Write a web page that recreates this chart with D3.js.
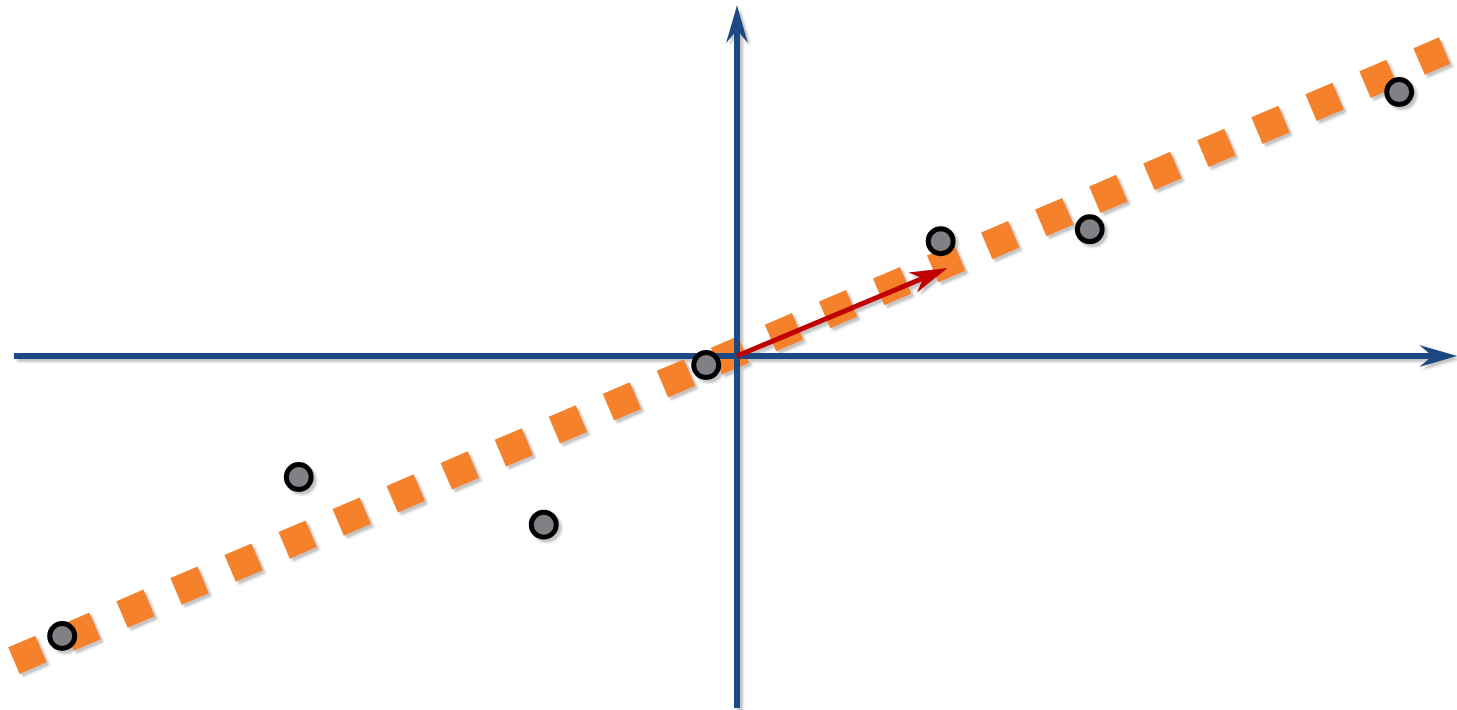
<!DOCTYPE html>
<html>
<head>
<meta charset="utf-8">
<script src="https://cdn.jsdelivr.net/npm/d3@7"></script>
<style>
  html, body { margin: 0; padding: 0; background: #fff; overflow: hidden; }
</style>
</head>
<body>
<div id="chart"></div>
<script>
// data points (x, y) in chart units
var pointsX = [-9.64, -6.26, -2.76, -0.44, 2.91, 5.04, 9.46];
var pointsY = [-4.0, -1.73, -2.41, -0.13, 1.64, 1.81, 3.77];

// fitted line through the cloud
var fitX = [-10.33, 10.11];
var fitSlope = 0.4263, fitIntercept = 0.053;

// red direction vector from origin
var vecX = [0, 3.01], vecY = [0, 1.257];

// axis extents
var axisXRange = [-10.33, 10.29];
var axisYRange = [-5.03, 5.01];

var width = 1457, height = 710;

var x = d3.scaleLinear().domain([-10, 10]).range([37, 1437]);
var y = d3.scaleLinear().domain([-5, 5]).range([706, 6]);

var svg = d3.select('#chart').append('svg')
  .attr('width', width).attr('height', height);

var defs = svg.append('defs');

var shadow = defs.append('filter').attr('id', 'shadow')
  .attr('x', '-20%').attr('y', '-20%').attr('width', '140%').attr('height', '140%');
shadow.append('feDropShadow')
  .attr('dx', 3).attr('dy', 3).attr('stdDeviation', 0.8)
  .attr('flood-color', '#888').attr('flood-opacity', 0.5);

// arrowhead: tip at +notch, back corners behind
function marker(id, color, len, half, notch) {
  defs.append('marker')
    .attr('id', id)
    .attr('markerUnits', 'userSpaceOnUse')
    .attr('viewBox', `${-(len - notch) - 1} ${-half - 1} ${len + 2} ${half * 2 + 2}`)
    .attr('markerWidth', len + 2).attr('markerHeight', half * 2 + 2)
    .attr('refX', 0).attr('refY', 0)
    .attr('orient', 'auto')
    .append('path')
    .attr('d', `M${notch},0 L${-(len - notch)},${-half} L0,0 L${-(len - notch)},${half} Z`)
    .attr('fill', color);
}
marker('arrowBlue', '#1f4a84', 38, 11, 25);
marker('arrowRed', '#c00000', 38, 11, 27);

// shorten a segment end by d pixels
function shorten(x1, y1, x2, y2, d) {
  var len = Math.hypot(x2 - x1, y2 - y1);
  return [x2 - (x2 - x1) / len * d, y2 - (y2 - y1) / len * d];
}

var g = svg.append('g').attr('filter', 'url(#shadow)');

// dashed fit line
g.append('line')
  .attr('x1', x(fitX[0])).attr('y1', y(fitSlope * fitX[0] + fitIntercept))
  .attr('x2', x(fitX[1])).attr('y2', y(fitSlope * fitX[1] + fitIntercept))
  .attr('stroke', '#f5822a')
  .attr('stroke-width', 29)
  .attr('stroke-dasharray', '29.5 29.25');

// axes
var hEnd = shorten(x(axisXRange[0]), y(0), x(axisXRange[1]), y(0), 25);
g.append('line')
  .attr('x1', x(axisXRange[0])).attr('y1', y(0))
  .attr('x2', hEnd[0]).attr('y2', hEnd[1])
  .attr('stroke', '#1f4a84').attr('stroke-width', 6)
  .attr('marker-end', 'url(#arrowBlue)');

var vEnd = shorten(x(0), y(axisYRange[0]), x(0), y(axisYRange[1]), 25);
g.append('line')
  .attr('x1', x(0)).attr('y1', y(axisYRange[0]))
  .attr('x2', vEnd[0]).attr('y2', vEnd[1])
  .attr('stroke', '#1f4a84').attr('stroke-width', 6)
  .attr('marker-end', 'url(#arrowBlue)');

// red vector
var rEnd = shorten(x(vecX[0]), y(vecY[0]), x(vecX[1]), y(vecY[1]), 27);
g.append('line')
  .attr('x1', x(vecX[0])).attr('y1', y(vecY[0]))
  .attr('x2', rEnd[0]).attr('y2', rEnd[1])
  .attr('stroke', '#c00000').attr('stroke-width', 5)
  .attr('marker-end', 'url(#arrowRed)');

// points
var points = pointsX.map(function (d, i) { return { x: d, y: pointsY[i] }; });
g.selectAll('circle.pt')
  .data(points)
  .join('circle')
  .attr('class', 'pt')
  .attr('cx', function (d) { return x(d.x); })
  .attr('cy', function (d) { return y(d.y); })
  .attr('r', 12.5)
  .attr('fill', '#808086')
  .attr('stroke', '#000')
  .attr('stroke-width', 5);
</script>
</body>
</html>
